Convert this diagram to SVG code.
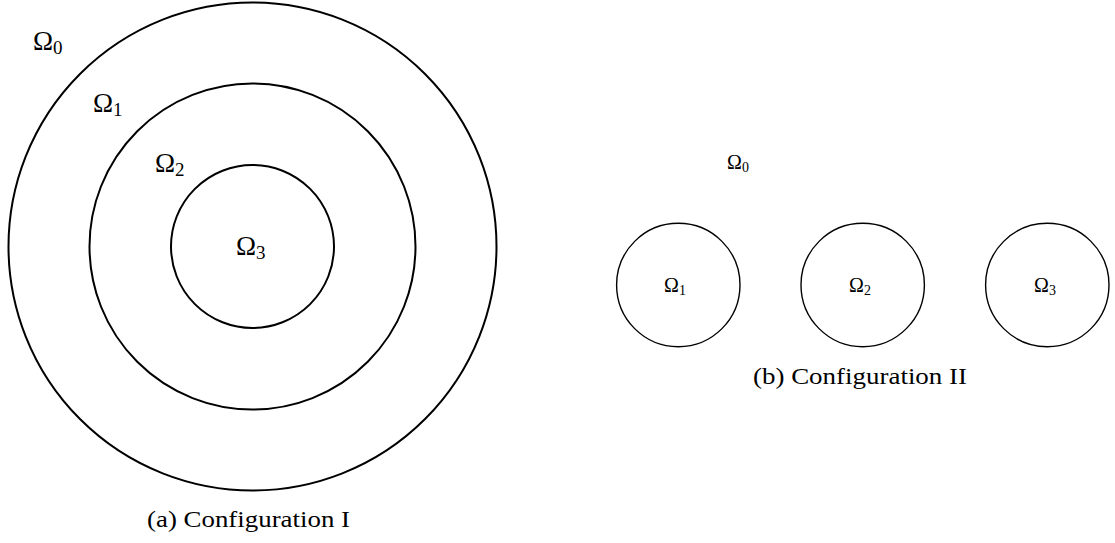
<svg xmlns="http://www.w3.org/2000/svg" width="1115" height="543" viewBox="0 0 1115 543">
<style>
.ring{fill:none;stroke:#000;stroke-width:2}
.disk{fill:none;stroke:#000;stroke-width:1.4}
.big{font-family:"Liberation Serif","DejaVu Serif",serif;font-size:27px;fill:#000}
.small{font-family:"Liberation Serif","DejaVu Serif",serif;font-size:20px;fill:#000}
.cap{font-family:"Liberation Serif","DejaVu Serif",serif;font-size:23px;fill:#000}
</style>
<rect width="1115" height="543" fill="#fff"/>
<g id="configI">
<g id="omega0-I"><circle class="ring" cx="252.5" cy="246.5" r="244"/><text class="big" x="33" y="50">Ω<tspan font-size="19" dy="4">0</tspan></text></g>
<g id="omega1-I"><circle class="ring" cx="252.5" cy="246.5" r="163"/><text class="big" x="93" y="112">Ω<tspan font-size="19" dy="4">1</tspan></text></g>
<g id="omega2-I"><circle class="ring" cx="252.5" cy="246.5" r="81.5"/><text class="big" x="155" y="172">Ω<tspan font-size="19" dy="4">2</tspan></text></g>
<g id="omega3-I"><text class="big" x="236" y="255">Ω<tspan font-size="19" dy="4">3</tspan></text></g>
<text class="cap" x="147" y="527" textLength="203" lengthAdjust="spacingAndGlyphs">(a) Configuration I</text>
</g>
<g id="configII">
<g id="omega0-II"><text class="small" x="727" y="169">Ω<tspan font-size="14" dy="3">0</tspan></text></g>
<g id="omega1-II"><circle class="disk" cx="678.3" cy="285" r="61.7"/><text class="small" x="664" y="292">Ω<tspan font-size="14" dy="3">1</tspan></text></g>
<g id="omega2-II"><circle class="disk" cx="862.7" cy="285" r="61.7"/><text class="small" x="849" y="292">Ω<tspan font-size="14" dy="3">2</tspan></text></g>
<g id="omega3-II"><circle class="disk" cx="1047.3" cy="285" r="61.7"/><text class="small" x="1034" y="292">Ω<tspan font-size="14" dy="3">3</tspan></text></g>
<text class="cap" x="753" y="384" textLength="214" lengthAdjust="spacingAndGlyphs">(b) Configuration II</text>
</g>
<g id="connectors"/>
</svg>
